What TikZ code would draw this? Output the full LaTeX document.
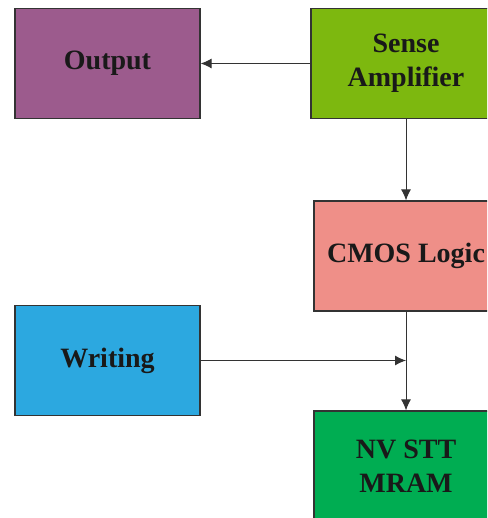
\documentclass[tikz,border=0pt]{standalone}
\usepackage{fontspec}
\setmainfont{Liberation Serif}
\usetikzlibrary{arrows.meta,positioning,shapes}
\definecolor{outcol}{HTML}{9C5B8D}
\definecolor{sacol}{HTML}{7DB80F}
\definecolor{cmoscol}{HTML}{EF8F88}
\definecolor{wrcol}{HTML}{2CA8E0}
\definecolor{nvcol}{HTML}{00AD52}
\definecolor{edge}{HTML}{333333}

\begin{document}
\begin{tikzpicture}[x=1pt,y=-1pt,
  blk/.style={draw=edge,line width=1.2pt,minimum height=110pt,align=center,
    text=black!90,font=\bfseries\fontsize{28}{34}\selectfont},
  arr/.style={-{Latex[length=11pt,width=10pt]},edge,line width=1pt}]
\useasboundingbox (0,0) rectangle (487,518);
\clip (0,0) rectangle (487,518);
\node[blk,fill=outcol,minimum width=185pt] (out) at (107.5,63.5) {Output};
\node[blk,fill=sacol,minimum width=190pt] (sa) at (406,63.5) {Sense\\Amplifier};
\node[blk,fill=cmoscol,minimum width=184pt] (cmos) at (406,256) {CMOS Logic};
\node[blk,fill=wrcol,minimum width=185pt] (wr) at (107.5,360.5) {Writing};
\node[blk,fill=nvcol,minimum width=184pt] (nv) at (406,466) {NV STT\\MRAM};
\coordinate (join) at (cmos.south |- wr.east);
\draw[arr] (sa) -- (out);
\draw[arr] (sa) -- (cmos);
\draw[arr] (cmos) -- (nv);
\draw[arr] (wr) -- (join);
\end{tikzpicture}
\end{document}
